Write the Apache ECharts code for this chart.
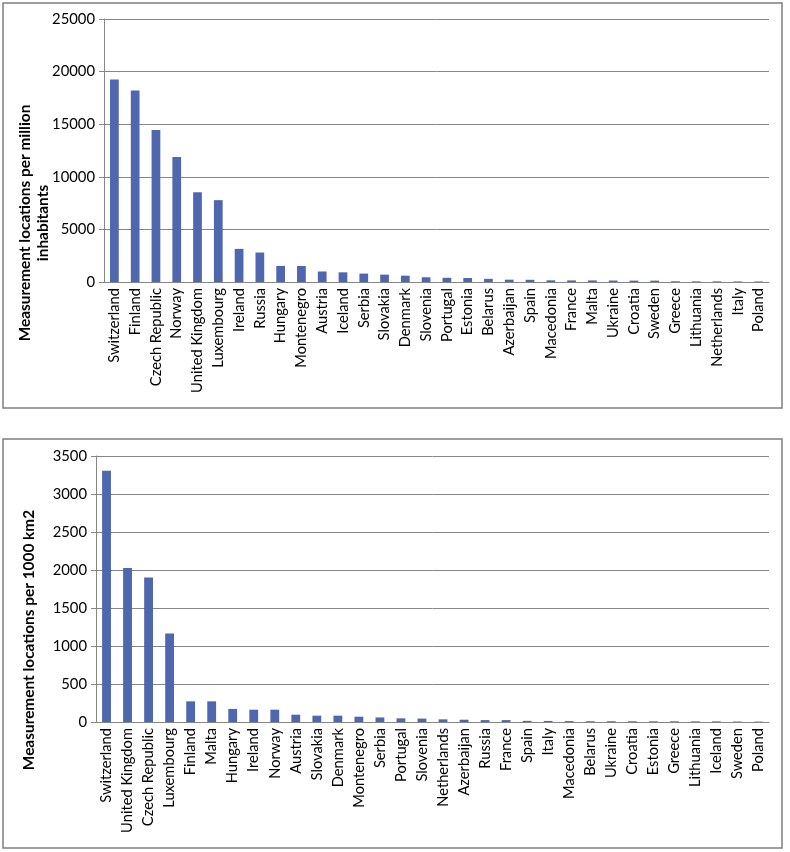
<!DOCTYPE html>
<html>
<head>
<meta charset="utf-8">
<script src="https://cdn.jsdelivr.net/npm/echarts@6/dist/echarts.min.js"></script>
<style>
html,body{margin:0;padding:0;background:#fff;}
#c{width:790px;height:852px;}
</style>
</head>
<body>
<div id="c"></div>
<script>
// Chart 1: per million inhabitants
const countriesPop = ["Switzerland","Finland","Czech Republic","Norway","United Kingdom","Luxembourg","Ireland","Russia","Hungary","Montenegro","Austria","Iceland","Serbia","Slovakia","Denmark","Slovenia","Portugal","Estonia","Belarus","Azerbaijan","Spain","Macedonia","France","Malta","Ukraine","Croatia","Sweden","Greece","Lithuania","Netherlands","Italy","Poland"];
const valuesPop = [19250,18200,14450,11880,8520,7780,3150,2800,1530,1520,1000,920,800,700,600,450,400,380,300,220,210,160,150,150,140,130,130,70,60,60,50,50];
const yTicksPop = {min:0, max:25000, interval:5000};
const titlePop = 'Measurement locations per million\ninhabitants';

// Chart 2: per 1000 km2
const countriesArea = ["Switzerland","United Kingdom","Czech Republic","Luxembourg","Finland","Malta","Hungary","Ireland","Norway","Austria","Slovakia","Denmark","Montenegro","Serbia","Portugal","Slovenia","Netherlands","Azerbaijan","Russia","France","Spain","Italy","Macedonia","Belarus","Ukraine","Croatia","Estonia","Greece","Lithuania","Iceland","Sweden","Poland"];
const valuesArea = [3305,2025,1900,1165,272,272,172,162,162,96,83,83,70,60,48,45,35,30,25,25,15,14,12,10,10,10,9,9,8,8,6,5];
const yTicksArea = {min:0, max:3500, interval:500};
const titleArea = 'Measurement locations per 1000 km2';

const barColor = '#4F67AE';
const gridColor = '#868686';
const fontMain = "Lato, 'Noto Sans', sans-serif";

// pick font sizes so the text widths match the reference
const mctx = document.createElement('canvas').getContext('2d');
function fitSize(text, weight, target){
  mctx.font = weight + ' 100px ' + fontMain;
  const w = mctx.measureText(text).width;
  return Math.round(100 * target / w * 10) / 10;
}
const catSize = fitSize('United Kingdom', 'normal', 105);
const tickSize = fitSize('25000', 'normal', 43);
const titleSize = fitSize('Measurement locations per million', 'bold', 237);

function xAxisDef(idx, cats){
  return {
    type:'category', gridIndex:idx, data:cats,
    axisLine:{lineStyle:{color:gridColor,width:1}},
    axisTick:{alignWithLabel:false, length:5, lineStyle:{color:gridColor}},
    axisLabel:{interval:0, rotate:90, color:'#000', fontSize:catSize, fontFamily:fontMain, margin:6}
  };
}
function yAxisDef(idx, t){
  return {
    type:'value', gridIndex:idx, min:t.min, max:t.max, interval:t.interval,
    axisLine:{show:true, lineStyle:{color:gridColor,width:1}},
    axisTick:{show:true, length:5, lineStyle:{color:gridColor}},
    splitLine:{lineStyle:{color:gridColor,width:1}},
    axisLabel:{color:'#000', fontSize:tickSize, fontFamily:fontMain, margin:9, formatter:function(v){return String(v);}}
  };
}

const chart = echarts.init(document.getElementById('c'), null, {renderer:'canvas'});
chart.setOption({
  animation:false,
  backgroundColor:'#fff',
  grid:[
    {left:104, right:21, top:19, height:263},
    {left:96, right:21, top:456, height:266}
  ],
  xAxis:[xAxisDef(0,countriesPop), xAxisDef(1,countriesArea)],
  yAxis:[yAxisDef(0,yTicksPop), yAxisDef(1,yTicksArea)],
  series:[
    {type:'bar', xAxisIndex:0, yAxisIndex:0, data:valuesPop, barWidth:'42%', itemStyle:{color:barColor}},
    {type:'bar', xAxisIndex:1, yAxisIndex:1, data:valuesArea, barWidth:'42%', itemStyle:{color:barColor}}
  ],
  graphic:[
    {type:'rect', shape:{x:3,y:3,width:779,height:405}, style:{fill:'none', stroke:'#7f7f7f', lineWidth:1.5}, silent:true},
    {type:'rect', shape:{x:3,y:439,width:779,height:409}, style:{fill:'none', stroke:'#7f7f7f', lineWidth:1.5}, silent:true},
    {type:'text', x:34, y:223, rotation:Math.PI/2,
      style:{text:titlePop, fill:'#000', font:"bold "+titleSize+"px "+fontMain, align:'center', verticalAlign:'middle', lineHeight:Math.round(titleSize*1.2)}},
    {type:'text', x:29, y:640, rotation:Math.PI/2,
      style:{text:titleArea, fill:'#000', font:"bold "+titleSize+"px "+fontMain, align:'center', verticalAlign:'middle'}}
  ]
});
</script>
</body>
</html>
